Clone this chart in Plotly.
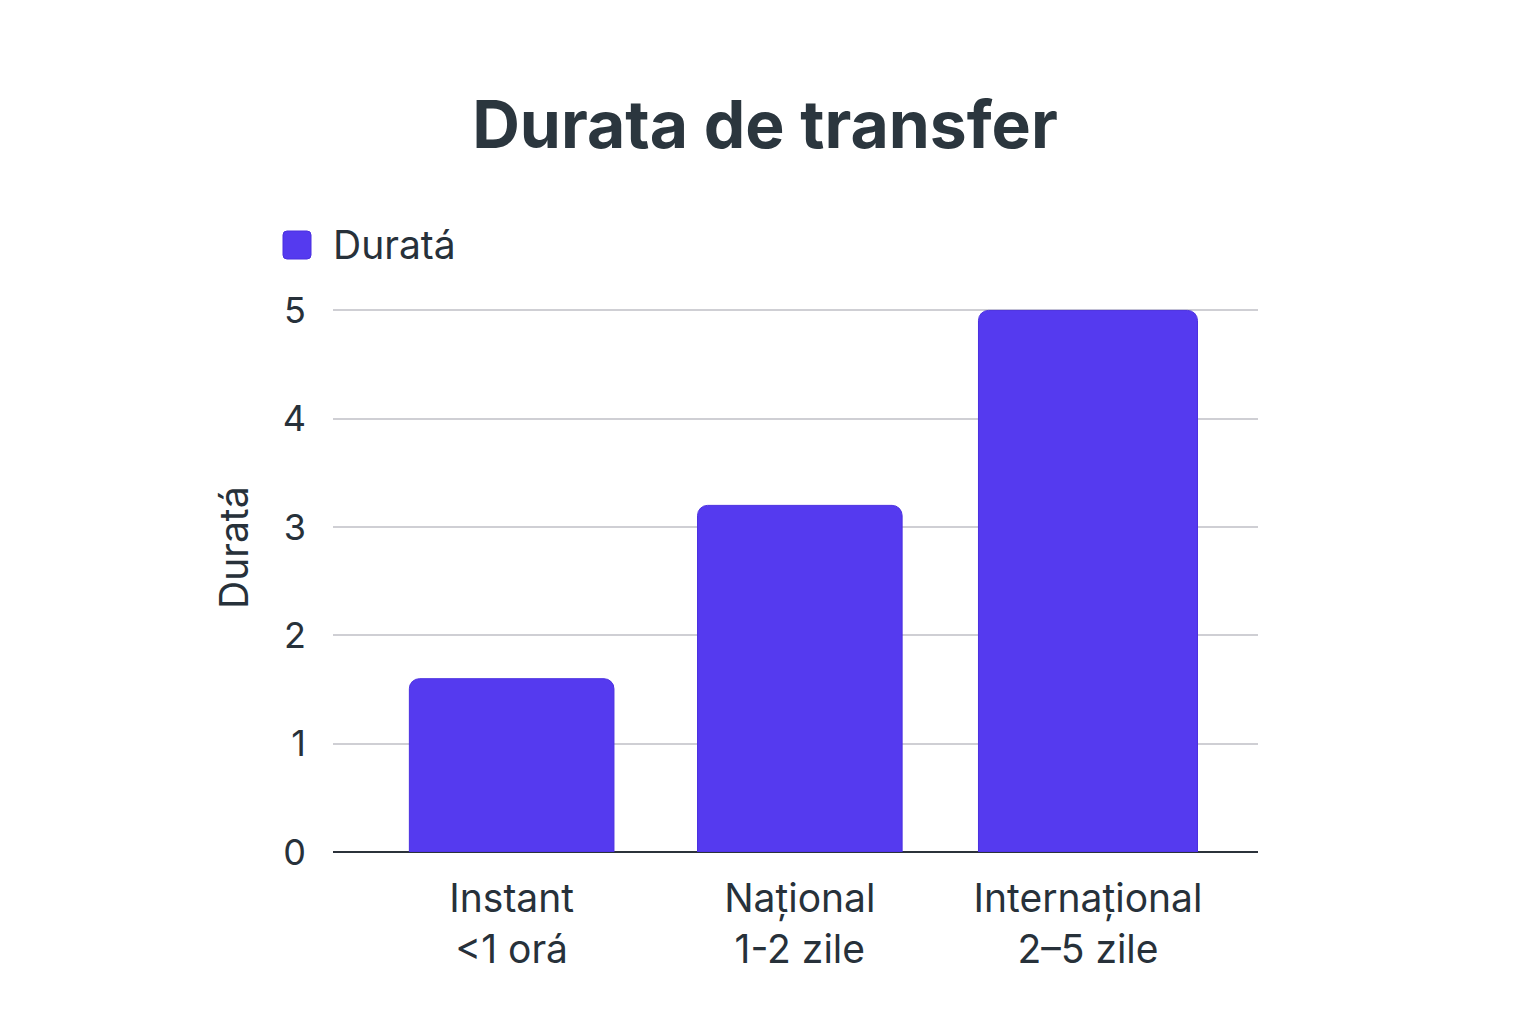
import plotly.graph_objects as go

categories = ["Instant<br>&lt;1 orá", "Național<br>1-2 zile", "Internațional<br>2–5 zile"]
values = [1.6, 3.2, 5.0]
series_name = "Duratá"
y_ticks = [0, 1, 2, 3, 4, 5]

BAR = "#553AEF"
TEXT = "#27313a"
FONT = "Inter"

# plot area in figure pixels (page is offset by 8px body margin)
L, R, T, B = 325, 286, 297, 180
PW, PH = 1536 - L - R, 1024 - T - B


def px(x):
    return (x - 8 - L) / PW


def py(y):
    return (1024 - B - (y - 8)) / PH


fig = go.Figure()
fig.add_trace(go.Bar(
    x=categories, y=values, name=series_name,
    marker=dict(color=BAR, line=dict(color="#4a2fe0", width=1), cornerradius=10),
    width=[0.71, 0.71, 0.76],
    showlegend=False,
))

fig.update_layout(
    width=1536, height=1024,
    paper_bgcolor="white", plot_bgcolor="white",
    margin=dict(l=L, r=R, t=T, b=B),
    font=dict(family=FONT, color=TEXT),
    title=dict(text="<b>Durata de transfer</b>", x=(765 - 8) / 1536, xanchor="center",
               y=1 - 117/1024, yanchor="middle", yref="container",
               font=dict(size=66, family=FONT, color="#2b363e")),
)
fig.update_xaxes(
    range=[-0.62, 2.59], showgrid=False, showline=False,
    tickfont=dict(size=39, family=FONT, color=TEXT),
    ticks="", ticklabelstandoff=20,
)
fig.update_yaxes(
    range=[0, 5.05], tickvals=y_ticks, showgrid=True,
    gridcolor="#cfcfd4", gridwidth=1.5,
    zeroline=True, zerolinecolor="#2b323a", zerolinewidth=2,
    tickfont=dict(size=36, family=FONT, color=TEXT),
    ticks="", ticklabelstandoff=26,
)

# y-axis title
fig.add_annotation(text="Duratá", xref="paper", yref="paper",
                   x=px(233), y=py(548), xanchor="center", yanchor="middle",
                   textangle=-90, showarrow=False,
                   font=dict(size=39, family=FONT, color=TEXT))

# legend swatch (rounded) and label
x0, x1, y0, y1 = px(283), px(311), py(259), py(231)
rx, ry = 4 / PW, 4 / PH
path = (f"M{x0+rx},{y0} L{x1-rx},{y0} Q{x1},{y0} {x1},{y0+ry} "
        f"L{x1},{y1-ry} Q{x1},{y1} {x1-rx},{y1} L{x0+rx},{y1} Q{x0},{y1} {x0},{y1-ry} "
        f"L{x0},{y0+ry} Q{x0},{y0} {x0+rx},{y0} Z")
fig.add_shape(type="path", xref="paper", yref="paper", path=path,
              fillcolor=BAR, line=dict(color="#4a2fe0", width=1))
fig.add_annotation(text=series_name, xref="paper", yref="paper",
                   x=px(331), y=py(245), xanchor="left", yanchor="middle",
                   showarrow=False, font=dict(size=39, family=FONT, color=TEXT))

fig.write_html("out.html")
